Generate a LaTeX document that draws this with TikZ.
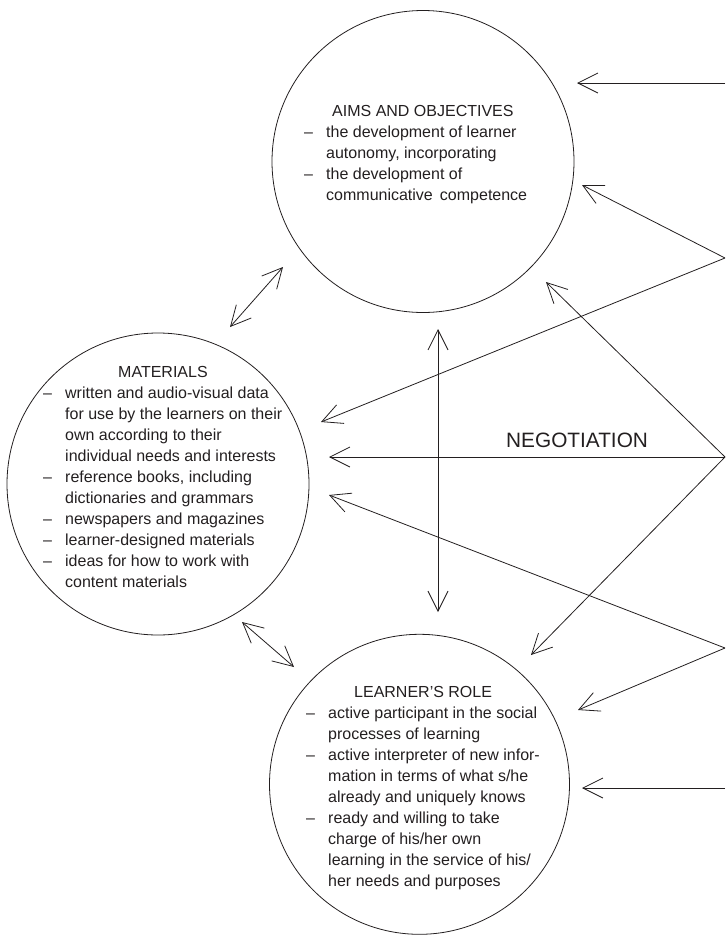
\documentclass[tikz,border=0pt]{standalone}
\usepackage{fontspec}
\setmainfont{Liberation Sans}
\usetikzlibrary{arrows.meta}
\definecolor{ink}{RGB}{35,31,32}
\newcommand{\bitem}[1]{\makebox[22pt][l]{–}#1}
\newcommand{\bcont}[1]{\hspace*{22pt}#1}
\newcommand{\blocktext}[1]{\begin{minipage}[t]{300pt}\fontsize{16pt}{21pt}\selectfont\setlength{\parindent}{0pt}#1\end{minipage}}
\begin{document}
\begin{tikzpicture}[x=1pt,y=-1pt,
  bubble/.style={circle,draw=ink,line width=0.8pt,minimum size=302pt,inner sep=0pt},
  txt/.style={inner sep=0pt,anchor=base west,text=ink},
  link/.style={draw=ink,line width=0.8pt,-{Straight Barb[length=20pt,width=20pt]}},
  both/.style={draw=ink,line width=0.8pt,{Straight Barb[length=20pt,width=20pt]}-{Straight Barb[length=20pt,width=20pt]}}]
\useasboundingbox (0,0) rectangle (726,935);

% circles
\node[bubble] (aims) at (423,161.5) {};
\node[bubble] (mat) at (158,484) {};
\node[bubble,minimum size=300pt] (learn) at (419.5,784.3) {};

% texts
\node[txt] (aimstxt) at (304,116) {\blocktext{%
\hspace*{28pt}AIMS AND OBJECTIVES\\
\bitem{the development of learner}\\
\bcont{autonomy, incorporating}\\
\bitem{the development of}\\
\bcont{communicative\, competence}}};

\node[txt] (mattxt) at (43,377) {\blocktext{%
\hspace*{75pt}MATERIALS\\
\bitem{written and audio-visual data}\\
\bcont{for use by the learners on their}\\
\bcont{own according to their}\\
\bcont{individual needs and interests}\\
\bitem{reference books, including}\\
\bcont{dictionaries and grammars}\\
\bitem{newspapers and magazines}\\
\bitem{learner-designed materials}\\
\bitem{ideas for how to work with}\\
\bcont{content materials}}};

\node[txt] (learntxt) at (306,697) {\blocktext{%
\hspace*{48pt}LEARNER’S ROLE\\
\bitem{active participant in the social}\\
\bcont{processes of learning}\\
\bitem{active interpreter of new infor-}\\
\bcont{mation in terms of what s/he}\\
\bcont{already and uniquely knows}\\
\bitem{ready and willing to take}\\
\bcont{charge of his/her own}\\
\bcont{learning in the service of his/}\\
\bcont{her needs and purposes}}};

\node[txt,font=\fontsize{20.8pt}{24pt}\selectfont] (neg) at (506,447) {NEGOTIATION};

% source points on the right
\coordinate (s0) at (725,83);
\coordinate (s1) at (725,258);
\coordinate (s2) at (725,457);
\coordinate (s3) at (725,648);
\coordinate (s4) at (725,788);

% tip points
\coordinate (aimsA) at (577,83);
\coordinate (aimsB) at (582,185);
\coordinate (aimsC) at (546,282);
\coordinate (aimsL) at (283,267);
\coordinate (aimsD) at (438,329);
\coordinate (matA) at (321,422);
\coordinate (matB) at (329,457);
\coordinate (matC) at (329,495);
\coordinate (matU) at (230,327);
\coordinate (matD) at (242,622);
\coordinate (learnA) at (531,655);
\coordinate (learnB) at (578,710);
\coordinate (learnC) at (582,788);
\coordinate (learnU) at (438,612);
\coordinate (learnL) at (294,667);

% connectors
\draw[link] (s0) -- (aimsA);
\draw[link] (s1) -- (aimsB);
\draw[link] (s1) -- (matA);
\draw[link] (s2) -- (aimsC);
\draw[link] (s2) -- (matB);
\draw[link] (s2) -- (learnA);
\draw[link] (s3) -- (matC);
\draw[link] (s3) -- (learnB);
\draw[link] (s4) -- (learnC);
\draw[both] (aimsD) -- (learnU);
\draw[both] (matU) -- (aimsL);
\draw[both] (matD) -- (learnL);
\end{tikzpicture}
\end{document}
